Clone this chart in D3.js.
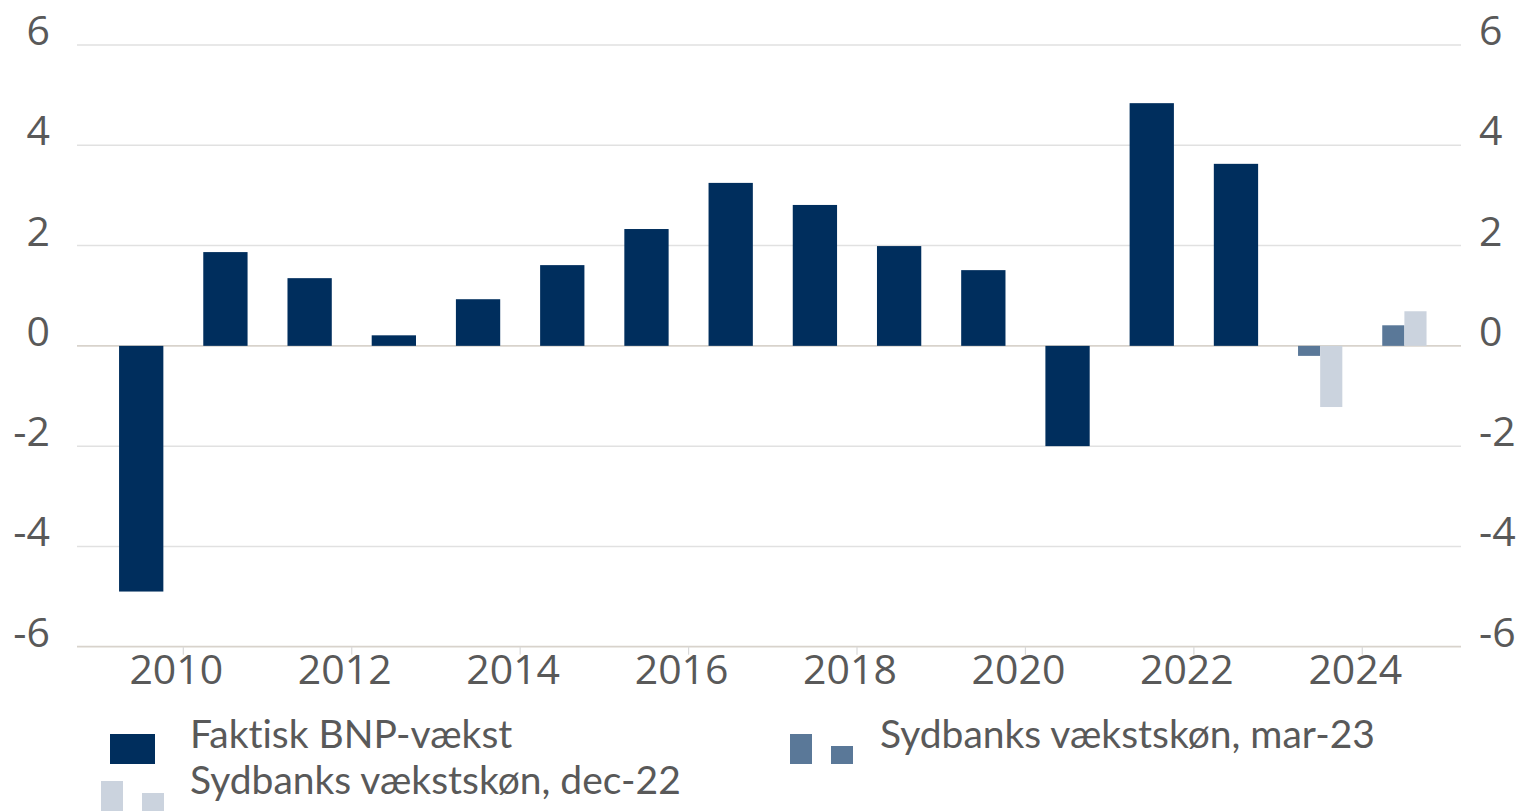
<!DOCTYPE html>
<html>
<head>
<meta charset="utf-8">
<script src="https://cdn.jsdelivr.net/npm/d3@7"></script>
<style>
  body { margin: 0; background: #fff; }
  text { fill: #595959; font-variant-ligatures: none; font-feature-settings: "liga" 0; }
</style>
</head>
<body>
<div id="chart"></div>
<script>
// data
var years = [2009, 2010, 2011, 2012, 2013, 2014, 2015, 2016, 2017, 2018, 2019, 2020, 2021, 2022, 2023, 2024];
var actualGrowth = [-4.9, 1.87, 1.35, 0.21, 0.93, 1.61, 2.33, 3.25, 2.81, 1.99, 1.51, -2.0, 4.84, 3.63, null, null];
var forecastYears = [2023, 2024];
var forecastMar23 = [-0.2, 0.41];
var forecastDec22 = [-1.22, 0.69];
var yTicks = [-6, -4, -2, 0, 2, 4, 6];
var xTickYears = [2010, 2012, 2014, 2016, 2018, 2020, 2022, 2024];

var width = 1519, height = 811;
var colDark = "#002e5d", colMid = "#5a7898", colLight = "#cbd3de";
var axisFont = "'Open Sans', sans-serif";
var legendFont = "Lato, sans-serif";

var svg = d3.select("#chart").append("svg")
  .attr("width", width).attr("height", height);

var plotLeft = 77, plotRight = 1461;

var x = d3.scaleBand()
  .domain(years)
  .range([99.1, 1446.5])
  .paddingInner(0.474)
  .paddingOuter(0.237);
var step = x.step();

var y = d3.scaleLinear().domain([-6, 6]).range([646.7, 45]);

// gridlines
svg.append("g").selectAll("line")
  .data(yTicks.filter(function (d) { return d != 0 && d != -6; }))
  .enter().append("line")
  .attr("x1", plotLeft).attr("x2", plotRight)
  .attr("y1", function (d) { return y(d); })
  .attr("y2", function (d) { return y(d); })
  .style("stroke", "#e1e1e1").style("stroke-width", 1.5);

// zero line and bottom axis line
svg.append("g").selectAll("line")
  .data([0, -6])
  .enter().append("line")
  .attr("x1", plotLeft).attr("x2", plotRight)
  .attr("y1", function (d) { return y(d); })
  .attr("y2", function (d) { return y(d); })
  .style("stroke", "#d8d3cc").style("stroke-width", 1.8);

// x ticks sit on the border between categories
var xTickPos = function (yr) { return x(yr) + x.bandwidth() / 2 - step / 2; };
svg.append("g").selectAll("line")
  .data(xTickYears)
  .enter().append("line")
  .attr("x1", xTickPos).attr("x2", xTickPos)
  .attr("y1", y(-6)).attr("y2", y(-6) + 8)
  .style("stroke", "#d9d9d9").style("stroke-width", 1.2);

svg.append("g").selectAll("text")
  .data(xTickYears)
  .enter().append("text")
  .attr("x", function (d) { return xTickPos(d) - 7; })
  .attr("y", 684)
  .attr("text-anchor", "middle")
  .style("font-family", axisFont)
  .style("font-size", "41px")
  .text(function (d) { return d; });

// left & right y labels
svg.append("g").selectAll("text")
  .data(yTicks)
  .enter().append("text")
  .attr("x", 50)
  .attr("y", function (d) { return y(d); })
  .attr("text-anchor", "end")
  .style("font-family", axisFont)
  .style("font-size", "41px")
  .text(function (d) { return d; });

svg.append("g").selectAll("text")
  .data(yTicks)
  .enter().append("text")
  .attr("x", 1479)
  .attr("y", function (d) { return y(d); })
  .attr("text-anchor", "start")
  .style("font-family", axisFont)
  .style("font-size", "41px")
  .text(function (d) { return d; });

// actual bars
var actualData = [];
for (i = 0; i < years.length; i++) {
  if (actualGrowth[i] !== null) actualData.push({ year: years[i], value: actualGrowth[i] });
}
svg.append("g").selectAll("rect")
  .data(actualData)
  .enter().append("rect")
  .attr("x", function (d) { return x(d.year); })
  .attr("width", x.bandwidth())
  .attr("y", function (d) { return y(Math.max(0, d.value)); })
  .attr("height", function (d) { return Math.abs(y(d.value) - y(0)); })
  .style("fill", colDark);

// forecasts, two half bars per year
var xSub = d3.scaleBand().domain(["mar23", "dec22"]).range([0, x.bandwidth()]);
var forecastData = [];
for (i = 0; i < forecastYears.length; i++) {
  forecastData.push({ year: forecastYears[i], key: "mar23", value: forecastMar23[i] });
  forecastData.push({ year: forecastYears[i], key: "dec22", value: forecastDec22[i] });
}
svg.append("g").selectAll("rect")
  .data(forecastData)
  .enter().append("rect")
  .attr("x", function (d) { return x(d.year) + xSub(d.key); })
  .attr("width", xSub.bandwidth())
  .attr("y", function (d) { return y(Math.max(0, d.value)); })
  .attr("height", function (d) { return Math.abs(y(d.value) - y(0)); })
  .style("fill", function (d) { return d.key == "mar23" ? colMid : colLight; });

// legend
var legend = svg.append("g");
legend.append("rect").attr("x", 110).attr("y", 734).attr("width", 45).attr("height", 30).style("fill", colDark);
legend.append("rect").attr("x", 101).attr("y", 781).attr("width", 22).attr("height", 40).style("fill", colLight);
legend.append("rect").attr("x", 142).attr("y", 793).attr("width", 22).attr("height", 30).style("fill", colLight);
legend.append("rect").attr("x", 790).attr("y", 734).attr("width", 22).attr("height", 30).style("fill", colMid);
legend.append("rect").attr("x", 831).attr("y", 746).attr("width", 22).attr("height", 18).style("fill", colMid);

var legendText = [
  { x: 190, y: 748, t: "Faktisk BNP-vækst" },
  { x: 190, y: 794, t: "Sydbanks vækstskøn, dec-22" },
  { x: 880, y: 748, t: "Sydbanks vækstskøn, mar-23" }
];
legend.selectAll("text")
  .data(legendText)
  .enter().append("text")
  .attr("x", function (d) { return d.x; })
  .attr("y", function (d) { return d.y; })
  .style("font-family", legendFont)
  .style("font-size", "39px")
  .text(function (d) { return d.t; });
</script>
</body>
</html>
